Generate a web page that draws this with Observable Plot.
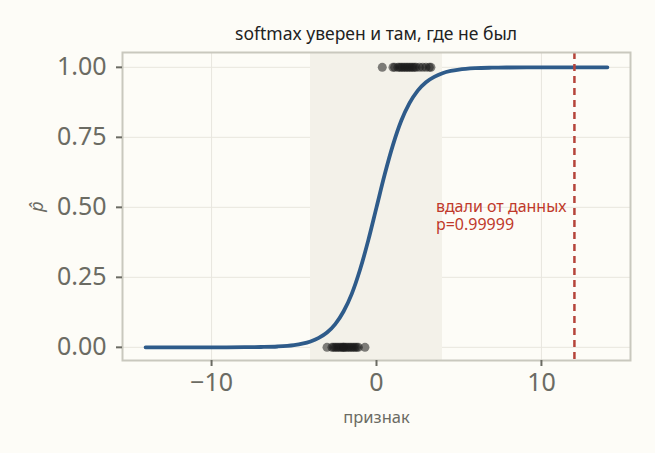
<!DOCTYPE html>
<html><head><meta charset="utf-8">
<script src="https://cdn.jsdelivr.net/npm/d3@7"></script>
<script src="https://cdn.jsdelivr.net/npm/@observablehq/plot@0.6"></script>
<style>
html,body{margin:0;padding:0;background:#fdfcf7;}
#title{height:44px;box-sizing:border-box;padding:22px 25px 0 122px;text-align:center;font-family:"Noto Sans",sans-serif;font-size:17.5px;color:#222;line-height:22px;}
</style></head>
<body>
<div id="title">softmax уверен и там, где не был</div>
<div id="chart"></div>
<script>
// sigmoid curve
const curveX = [-14, -10, -8, -7, -6, -5, -4.5, -4, -3.5, -3, -2.5, -2, -1.5, -1, -0.5, 0, 0.5, 1, 1.5, 2, 2.5, 3, 3.5, 4, 4.5, 5, 6, 7, 8, 10, 14];
const curveP = [0.0000, 0.0001, 0.0005, 0.0012, 0.003, 0.008, 0.013, 0.021, 0.034, 0.053, 0.083, 0.128, 0.191, 0.277, 0.382, 0.5, 0.618, 0.723, 0.809, 0.872, 0.917, 0.947, 0.966, 0.979, 0.987, 0.992, 0.997, 0.9988, 0.9995, 0.9999, 1.0000];
// training points
const class0X = [-3.0, -2.7, -2.6, -2.5, -2.4, -2.3, -2.2, -2.1, -2.0, -2.0, -1.9, -1.8, -1.7, -1.6, -1.5, -1.4, -1.3, -1.2, -1.1, -0.7];
const class1X = [0.35, 1.0, 1.1, 1.3, 1.4, 1.5, 1.6, 1.7, 1.8, 1.9, 2.0, 2.1, 2.2, 2.3, 2.4, 2.6, 2.8, 3.0, 3.2, 3.3];
const bandRange = [-4, 4];
const farX = 12;
const annotationLines = ["вдали от данных", "p=0.99999"];
const annotationY = [0.5, 0.437];
const xTicks = [-10, 0, 10];
const yTicks = [0, 0.25, 0.5, 0.75, 1];

const curve = curveX.map((x, i) => ({x, p: curveP[i]}));
const pts = [...class0X.map(x => ({x, y: 0})), ...class1X.map(x => ({x, y: 1}))];
const notes = annotationLines.map((t, i) => ({t, y: annotationY[i]}));

const plot = Plot.plot({
  width: 655, height: 409,
  marginLeft: 122, marginRight: 25, marginTop: 8, marginBottom: 93,
  style: {background: "#fdfcf7", fontFamily: "Noto Sans, sans-serif", color: "#6b6b63"},
  x: {domain: [-15.4, 15.4]},
  y: {domain: [-0.047, 1.053]},
  marks: [
    Plot.gridX(xTicks, {stroke: "#e8e6de", strokeOpacity: 1, strokeWidth: 1}),
    Plot.gridY(yTicks, {stroke: "#e8e6de", strokeOpacity: 1, strokeWidth: 1}),
    Plot.rectX([{x1: bandRange[0], x2: bandRange[1]}], {x1: "x1", x2: "x2", fill: "#f3f1e9"}),
    Plot.dot(pts, {x: "x", y: "y", r: 4.5, fill: "#1a1a1a", fillOpacity: 0.55, stroke: "none"}),
    Plot.line(curve, {x: "x", y: "p", stroke: "#2e5b8a", strokeWidth: 3.8, curve: "monotone-x"}),
    Plot.ruleX([farX], {stroke: "#b5443a", strokeWidth: 2.5, strokeDasharray: "7,5"}),
    Plot.text(notes, {x: 3.6, y: "y", text: "t", textAnchor: "start", lineAnchor: "middle", fill: "#c0392b", fontSize: 16}),
    Plot.frame({stroke: "#c9c8be", strokeWidth: 2}),
    Plot.axisX(xTicks, {tickSize: 6, tickPadding: 7, fontSize: 25, stroke: "#6b6b63", strokeWidth: 2, tickFormat: d => d < 0 ? "−" + Math.abs(d) : String(d), label: "признак", labelAnchor: "center", labelArrow: "none", labelOffset: 62}),
    Plot.axisY(yTicks, {tickSize: 6, tickPadding: 10, fontSize: 25, stroke: "#6b6b63", strokeWidth: 2, tickFormat: d3.format(".2f"), label: "p̂", labelAnchor: "center", labelArrow: "none", labelOffset: 92})
  ]
});
plot.querySelectorAll('[aria-label="x-axis label"] text').forEach(t => { t.setAttribute("font-size", "16.5"); t.style.fontSize = "16.5px"; });
plot.querySelectorAll('[aria-label="y-axis label"] text').forEach(t => { t.setAttribute("font-size", "18"); t.style.fontSize = "18px"; t.style.fontStyle = "italic"; });
document.getElementById("chart").appendChild(plot);
</script>
</body></html>
